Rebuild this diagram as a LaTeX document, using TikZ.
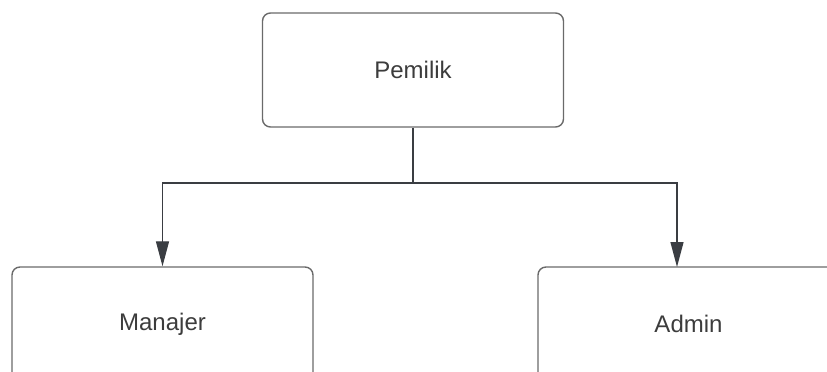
\documentclass[tikz,border=0pt]{standalone}
\usepackage{fontspec}
\setmainfont{Liberation Sans}
\usetikzlibrary{arrows.meta}
\definecolor{boxline}{HTML}{6A6A6A}
\definecolor{wire}{HTML}{3A3D42}
\definecolor{label}{HTML}{3C3C3C}
\begin{document}
\begin{tikzpicture}[x=1pt,y=-1pt,
  rolebox/.style={draw=boxline, line width=1.4pt, rounded corners=8pt,
    minimum width=301pt, minimum height=114pt, inner sep=0pt},
  rolelabel/.style={text=label, font=\fontsize{24}{28}\selectfont},
  link/.style={draw=wire, line width=1.3pt,
    -{Triangle[length=25pt,width=13pt]}}]
  \useasboundingbox (0,0) rectangle (827,372);
  \begin{scope}
    \clip (0,0) rectangle (827,372);
    % org boxes
    \node[rolebox] (pemilik) at (413,70) {};
    \node[rolebox] (manajer) at (162.5,324) {};
    \node[rolebox] (admin) at (688.5,324) {};
    \node[rolelabel] at (pemilik.center) {Pemilik};
    \node[rolelabel] at (manajer.center) {Manajer};
    \node[rolelabel] at (admin.center) {Admin};
    % connectors
    \coordinate (split) at (413,183);
    \coordinate (admintop) at (677,267);
    \draw[draw=wire, line width=1.3pt] (pemilik.south) -- (split);
    \draw[link] (split) -| (manajer.north);
    \draw[link] (split) -| (admintop);
  \end{scope}
\end{tikzpicture}
\end{document}
